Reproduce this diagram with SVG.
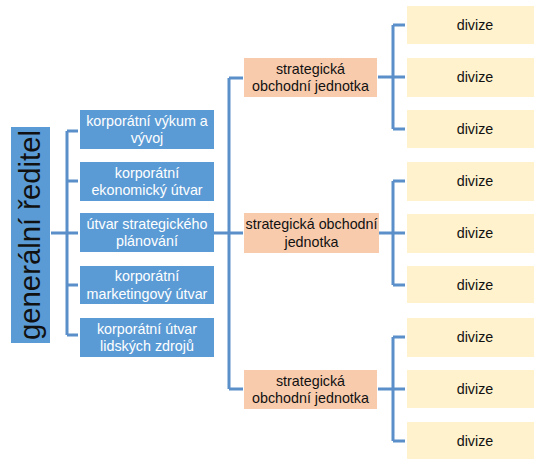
<svg xmlns="http://www.w3.org/2000/svg" width="534" height="459" viewBox="0 0 534 459">
<style>
.ln{fill:none;stroke:#5B8FC9;stroke-width:3}
.blue{fill:#5B9BD5}
.org{fill:#F8CBAD}
.yel{fill:#FFF2CC}
text{font-family:"Liberation Sans","Open Sans",sans-serif;font-size:14.3px;text-anchor:middle}
.w{fill:#FFFFFF}
.k{fill:#111111}
</style>
<rect width="534" height="459" fill="#FFFFFF"/>
<g id="connectors">
<path class="ln" d="M51,233 H78 M67,131 V335 M67,131 H78 M67,181 H78 M67,285 H78 M67,335 H78"/>
<path class="ln" d="M214,233 H243 M229,78 V389 M229,78 H243 M229,389 H243"/>
<path class="ln" d="M378,77 H405 M393,25 V129 M393,25 H405 M393,129 H405"/>
<path class="ln" d="M379,233 H405 M393,181 V285 M393,181 H405 M393,285 H405"/>
<path class="ln" d="M378,389 H405 M393,337 V441 M393,337 H405 M393,441 H405"/>
</g>
<g id="n-reditel">
<rect class="blue" x="11" y="127" width="39" height="216"/>
<text class="k" transform="translate(40,235) rotate(-90)" style="font-size:29px" textLength="210" lengthAdjust="spacingAndGlyphs">generální ředitel</text>
</g>
<g id="n-vyzkum">
<rect class="blue" x="80" y="110" width="134" height="39"/>
<text class="w" x="147" y="125.5">korporátní výkum a</text>
<text class="w" x="147" y="143">vývoj</text>
</g>
<g id="n-ekonom">
<rect class="blue" x="80" y="162" width="134" height="39"/>
<text class="w" x="147" y="177.5">korporátní</text>
<text class="w" x="147" y="195">ekonomický útvar</text>
</g>
<g id="n-plan">
<rect class="blue" x="80" y="213" width="134" height="39"/>
<text class="w" x="147" y="228.5">útvar strategického</text>
<text class="w" x="147" y="246">plánování</text>
</g>
<g id="n-market">
<rect class="blue" x="80" y="266" width="134" height="38"/>
<text class="w" x="147" y="281">korporátní</text>
<text class="w" x="147" y="298.5">marketingový útvar</text>
</g>
<g id="n-lidske">
<rect class="blue" x="80" y="318" width="134" height="39"/>
<text class="w" x="147" y="333.5">korporátní útvar</text>
<text class="w" x="147" y="351">lidských zdrojů</text>
</g>
<g id="n-sbu1">
<rect class="org" x="244" y="58" width="133" height="39"/>
<text class="k" x="310.5" y="73.5">strategická</text>
<text class="k" x="310.5" y="91">obchodní jednotka</text>
</g>
<g id="n-sbu2">
<rect class="org" x="244" y="213" width="135" height="40"/>
<text class="k" x="311.5" y="229">strategická obchodní</text>
<text class="k" x="311.5" y="246.5">jednotka</text>
</g>
<g id="n-sbu3">
<rect class="org" x="244" y="370" width="133" height="39"/>
<text class="k" x="310.5" y="385.5">strategická</text>
<text class="k" x="310.5" y="403">obchodní jednotka</text>
</g>
<g id="n-div1"><rect class="yel" x="407" y="6" width="145" height="38"/><text class="k" x="475" y="30">divize</text></g>
<g id="n-div2"><rect class="yel" x="407" y="58" width="145" height="39"/><text class="k" x="475" y="82">divize</text></g>
<g id="n-div3"><rect class="yel" x="407" y="110" width="145" height="38"/><text class="k" x="475" y="134">divize</text></g>
<g id="n-div4"><rect class="yel" x="407" y="162" width="145" height="39"/><text class="k" x="475" y="186">divize</text></g>
<g id="n-div5"><rect class="yel" x="407" y="214" width="145" height="39"/><text class="k" x="475" y="238">divize</text></g>
<g id="n-div6"><rect class="yel" x="407" y="266" width="145" height="37"/><text class="k" x="475" y="290">divize</text></g>
<g id="n-div7"><rect class="yel" x="407" y="318" width="145" height="39"/><text class="k" x="475" y="342">divize</text></g>
<g id="n-div8"><rect class="yel" x="407" y="370" width="145" height="38"/><text class="k" x="475" y="394">divize</text></g>
<g id="n-div9"><rect class="yel" x="407" y="422" width="145" height="37"/><text class="k" x="475" y="446">divize</text></g>
</svg>
